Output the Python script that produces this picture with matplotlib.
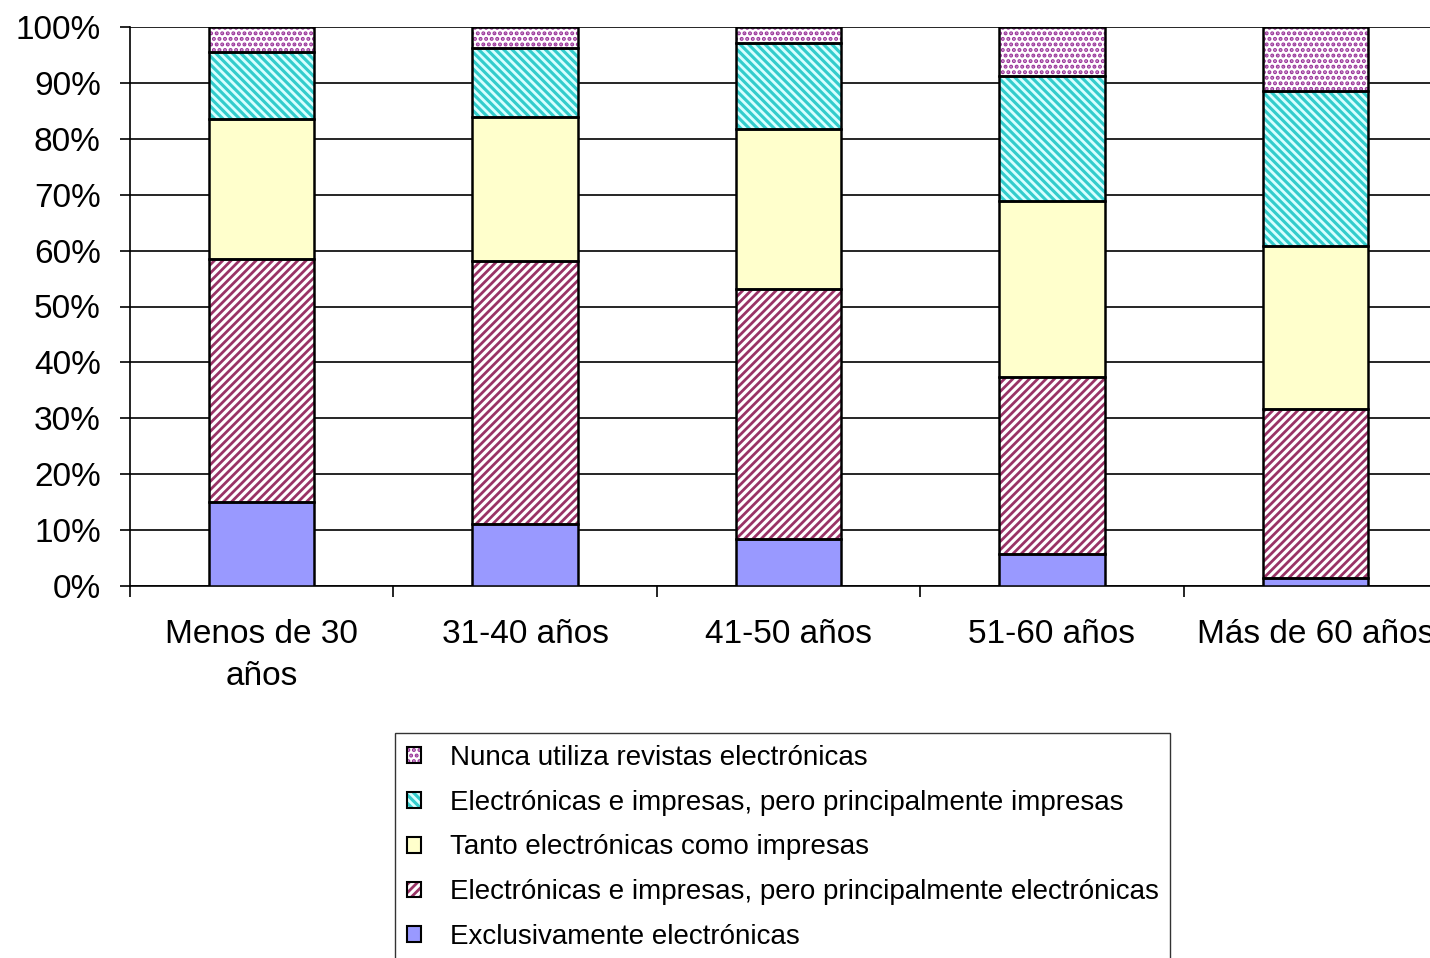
import numpy as np
import matplotlib.pyplot as plt
from matplotlib.patches import Patch
from matplotlib.legend_handler import HandlerTuple

plt.rcParams['font.family'] = ['Liberation Sans', 'DejaVu Sans']
plt.rcParams['hatch.linewidth'] = 2.0

# datos (porcentajes por grupo de edad)
categorias = ['Menos de 30\naños', '31-40 años', '41-50 años', '51-60 años', 'Más de 60 años']
exclusivamente = [15.0, 11.1, 8.4, 5.7, 1.4]
princ_electronicas = [43.5, 47.0, 44.7, 31.7, 30.3]
tanto = [25.0, 25.8, 28.7, 31.5, 29.1]
princ_impresas = [12.0, 12.3, 15.3, 22.3, 27.8]
nunca = [4.5, 3.8, 2.9, 8.8, 11.4]

series = [
    ('Exclusivamente electrónicas', exclusivamente, '#9999FF', None, None),
    ('Electrónicas e impresas, pero principalmente electrónicas', princ_electronicas, 'white', '#993366', '////'),
    ('Tanto electrónicas como impresas', tanto, '#FFFFCC', None, None),
    ('Electrónicas e impresas, pero principalmente impresas', princ_impresas, '#33CCCC', '#D8FFFF', '\\\\\\\\'),
    ('Nunca utiliza revistas electrónicas', nunca, 'white', '#993399', '...'),
]

fig = plt.figure(figsize=(14.30, 9.58), dpi=100)
ax = fig.add_axes([130 / 1430, (958 - 586) / 958, 1317 / 1430, 559 / 958])

x = np.arange(len(categorias))
ancho = 0.4
base = np.zeros(len(categorias))
handles = []
for nombre, vals, cara, color_h, hatch in series:
    vals = np.array(vals)
    ax.bar(x, vals, ancho, bottom=base, color=cara, edgecolor='none', linewidth=0, zorder=3)
    if hatch:
        ax.bar(x, vals, ancho, bottom=base, color='none', edgecolor=color_h, hatch=hatch, linewidth=0, zorder=3)
    ax.bar(x, vals, ancho, bottom=base, color='none', edgecolor='black', linewidth=1.8, zorder=4)
    base += vals
    partes = [Patch(facecolor=cara, edgecolor='none', linewidth=0)]
    if hatch:
        partes.append(Patch(facecolor='none', edgecolor=color_h, hatch=hatch, linewidth=0))
    partes.append(Patch(facecolor='none', edgecolor='black', linewidth=1.5))
    handles.append((tuple(partes), nombre))

ax.set_xlim(-0.5, len(categorias) - 0.5)
ax.set_ylim(0, 100)
ax.set_yticks(np.arange(0, 101, 10))
ax.set_yticklabels([f'{v}%' for v in range(0, 101, 10)])
ax.yaxis.grid(True, color='black', linewidth=1.2, zorder=0)
ax.set_axisbelow(True)

ax.set_xticks(x)
ax.set_xticklabels(categorias, linespacing=1.45)
ax.set_xticks(np.arange(-0.5, len(categorias), 1), minor=True)
ax.tick_params(axis='x', which='major', length=0, pad=24, labelsize=24)
ax.tick_params(axis='x', which='minor', length=8, width=1.2, direction='out')
ax.tick_params(axis='y', length=7, width=1.2, pad=14, labelsize=24)

for lado in ['top', 'right']:
    ax.spines[lado].set_visible(False)
ax.spines['left'].set_linewidth(1.2)
ax.spines['bottom'].set_linewidth(1.2)

handles = handles[::-1]
leg = fig.legend([h for h, _ in handles], [n for _, n in handles],
                 handler_map={tuple: HandlerTuple(ndivide=1, pad=0)},
                 loc='upper left', bbox_to_anchor=(395 / 1430, 1 - 733 / 958),
                 fontsize=20, frameon=True, fancybox=False, edgecolor='black',
                 handlelength=0.5, handleheight=0.5, handletextpad=1.05,
                 labelspacing=0.68, borderpad=0.42, borderaxespad=0)
leg.get_frame().set_linewidth(1.0)

fig.savefig('out.png', dpi=100)
